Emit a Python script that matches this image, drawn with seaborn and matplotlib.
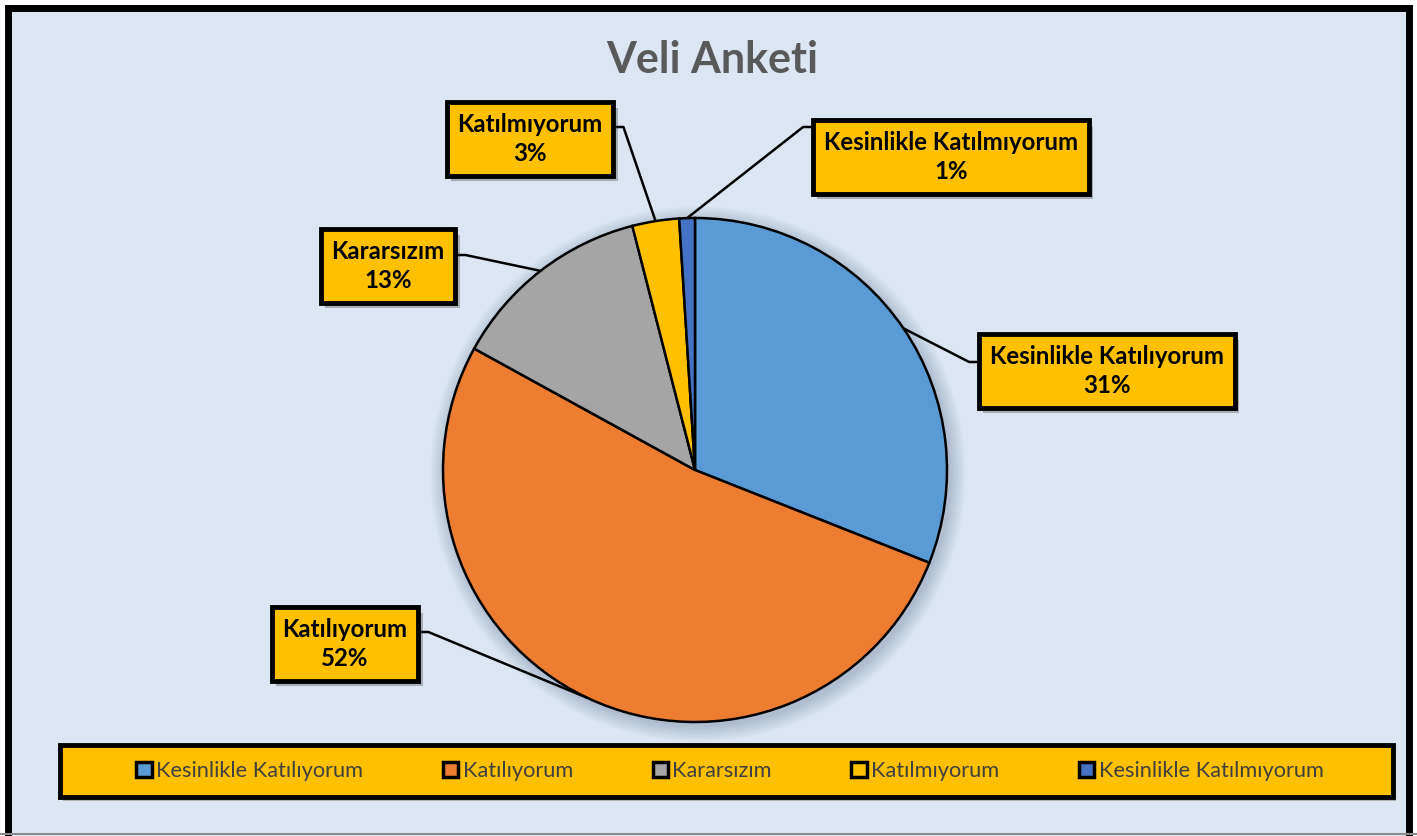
import matplotlib.pyplot as plt
import seaborn as sns
from matplotlib.patches import Rectangle, Circle
from matplotlib import patheffects as pe
import numpy as np

# Veri
categories = ["Kesinlikle Katılıyorum", "Katılıyorum", "Kararsızım",
              "Katılmıyorum", "Kesinlikle Katılmıyorum"]
percent = [31, 52, 13, 3, 1]
colors = ["#5B9BD5", "#ED7D31", "#A5A5A5", "#FFC000", "#4472C4"]
title = "Veli Anketi"

sns.set_theme(style="white")
plt.rcParams['font.family'] = ['Lato', 'DejaVu Sans']

W, H = 1417, 836
fig = plt.figure(figsize=(W / 100, H / 100), dpi=100)
fig.patch.set_facecolor("white")
ax = fig.add_axes([0, 0, 1, 1])

# dış çerçeve
ax.add_patch(Rectangle((8, -20), W - 16, H - 8 + 20, facecolor="#DCE6F2",
                       edgecolor="black", linewidth=5, zorder=0))
ax.plot([0, W], [2, 2], color="#8C8C8C", lw=1.5, zorder=0.5)

cx, cy, R = 695, H - 470, 252

# pasta gölgesi
for i in range(10):
    ax.add_patch(Circle((cx + 3, cy - 4), R + 1 + i * 1.6, color="#1F3864",
                        alpha=0.025, lw=0, zorder=1))

wedges, _ = ax.pie(percent, colors=colors, startangle=90, counterclock=False,
                   center=(cx, cy), radius=R,
                   wedgeprops=dict(edgecolor="black", linewidth=1.8, zorder=2))
ax.set_xlim(0, W)
ax.set_ylim(0, H)
ax.set_aspect("auto")
ax.axis("off")

ax.text(712, H - 60, title, ha="center", va="center", fontsize=31,
        fontweight="bold", color="#595959")

# etiket kutuları (merkez, piksel) ve bağlantı yüksekliği
label_pos = [(1107, 371), (345, 644), (388, 266), (530, 139), (951, 157)]
elbow_y = [362, 632, 255, 127, 127]

texts = []
for cat, p, (lx, ly) in zip(categories, percent, label_pos):
    t = ax.text(lx, H - ly, f"{cat}\n{p}%", ha="center", va="center",
                fontsize=17.3, fontweight="bold", color="black",
                linespacing=1.3, zorder=5,
                bbox=dict(boxstyle="square,pad=0.45", fc="#FFC000",
                          ec="black", lw=3.5))
    t.get_bbox_patch().set_path_effects(
        [pe.withSimplePatchShadow(offset=(3, -4), shadow_rgbFace="#404040", alpha=0.35)])
    texts.append(t)

fig.canvas.draw()
rend = fig.canvas.get_renderer()
inv = ax.transData.inverted()
for w, t, ey in zip(wedges, texts, elbow_y):
    mid = np.deg2rad((w.theta1 + w.theta2) / 2)
    px, py = cx + R * np.cos(mid), cy + R * np.sin(mid)
    bb = t.get_bbox_patch().get_window_extent(rend).transformed(inv)
    if bb.x0 > cx:
        ex = bb.x0
        kx = ex - 10
    else:
        ex = bb.x1
        kx = ex + 10
    ax.plot([px, kx, ex], [py, H - ey, H - ey], color="black", lw=1.8,
            zorder=4, solid_capstyle="butt")

# lejant
ax.add_patch(Rectangle((60, H - 797), 1333, 52, facecolor="#FFC000",
                       edgecolor="black", linewidth=3.5, zorder=3,
                       path_effects=[pe.withSimplePatchShadow(offset=(2, -3), alpha=0.3)]))
leg = ax.legend(wedges, categories, loc="center", bbox_to_anchor=(730, H - 771),
                bbox_transform=ax.transData, ncol=5, frameon=False,
                fontsize=15.7, handlelength=0.7, handleheight=0.7,
                handletextpad=0.2, columnspacing=3.66, labelcolor="#404040")
leg.set_zorder(6)
for h in leg.legend_handles:
    h.set_linewidth(2.5)

fig.savefig("out.png", dpi=100)
